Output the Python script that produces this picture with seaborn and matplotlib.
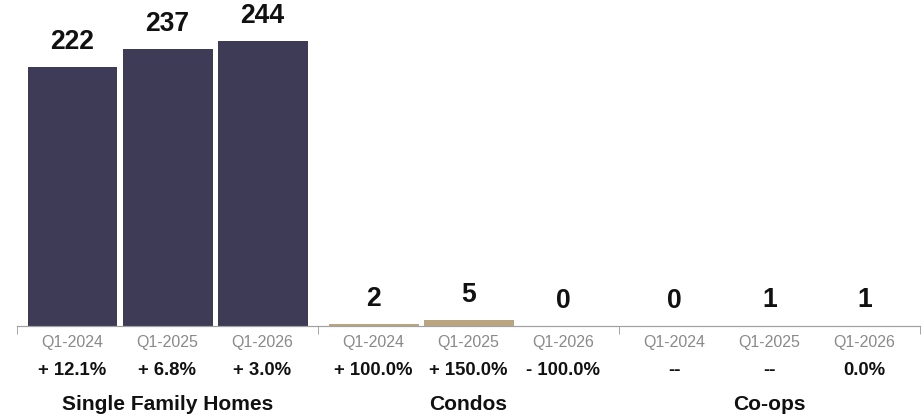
import matplotlib
matplotlib.use("Agg")
import matplotlib.pyplot as plt
import seaborn as sns
import pandas as pd

# Closed sales by property type, first quarter of each year
property_types = ["Single Family Homes", "Condos", "Co-ops"]
periods = ["Q1-2024", "Q1-2025", "Q1-2026"]
sfh_counts = [222, 237, 244]
condo_counts = [2, 5, 0]
coop_counts = [0, 1, 1]
sfh_change = ["+ 12.1%", "+ 6.8%", "+ 3.0%"]
condo_change = ["+ 100.0%", "+ 150.0%", "- 100.0%"]
coop_change = ["--", "--", "0.0%"]

counts = [sfh_counts, condo_counts, coop_counts]
changes = [sfh_change, condo_change, coop_change]
colors = {"Single Family Homes": "#3a375a", "Condos": "#c4a877", "Co-ops": "#ffffff"}

# bar spacing inside a group, in group-width units
step = 95 / 301

rows = []
for g, ptype in enumerate(property_types):
    for s, period in enumerate(periods):
        rows.append({
            "type": ptype,
            "period": period,
            "pos": g + (s - 1) * step,
            "count": counts[g][s],
            "change": changes[g][s],
        })
df = pd.DataFrame(rows)

sns.set_style("white")
plt.rcParams["font.family"] = ["Liberation Sans", "DejaVu Sans"]

W, H, DPI = 924, 417, 72
fig = plt.figure(figsize=(W / DPI, H / DPI), dpi=DPI)
ax = fig.add_axes([17 / W, (H - 326) / H, 903 / W, 326 / H])

sns.barplot(data=df, x="pos", y="count", hue="type", palette=colors,
            native_scale=True, dodge=False, width=90 / 95, linewidth=0,
            errorbar=None, legend=False, ax=ax)

ax.set_xlim(-0.5, 2.5)
ax.set_ylim(0, 279)
ax.set_xlabel("")
ax.set_ylabel("")
ax.set_yticks([])
ax.set_xticks([-0.5, 0.5, 1.5, 2.5])
ax.set_xticklabels([])
ax.tick_params(axis="x", direction="out", length=8, width=1, color="#a6a6a6", bottom=True)
for side in ["top", "right", "left"]:
    ax.spines[side].set_visible(False)
ax.spines["bottom"].set_color("#a0a0a0")
ax.spines["bottom"].set_linewidth(1.2)
ax.spines["bottom"].set_zorder(3)

xy_axis = ("data", "axes fraction")
for _, r in df.iterrows():
    # value above bar
    ax.annotate(f"{r['count']}", xy=(r["pos"], r["count"]), xytext=(0, 18),
                textcoords="offset points", ha="center", va="baseline",
                fontsize=26.5, fontweight="bold", color="#111111")
    # period label
    ax.annotate(r["period"], xy=(r["pos"], 0), xycoords=xy_axis, xytext=(0, -20.5),
                textcoords="offset points", ha="center", va="baseline",
                fontsize=16, color="#8a8a8a", annotation_clip=False)
    # year-over-year change
    ax.annotate(r["change"], xy=(r["pos"], 0), xycoords=xy_axis, xytext=(0, -49),
                textcoords="offset points", ha="center", va="baseline",
                fontsize=18.5, fontweight="bold", color="#111111", annotation_clip=False)

for g, ptype in enumerate(property_types):
    ax.annotate(ptype, xy=(g, 0), xycoords=xy_axis, xytext=(0, -84),
                textcoords="offset points", ha="center", va="baseline",
                fontsize=21, fontweight="bold", color="#111111", annotation_clip=False)

fig.savefig("out.png", dpi=DPI)
